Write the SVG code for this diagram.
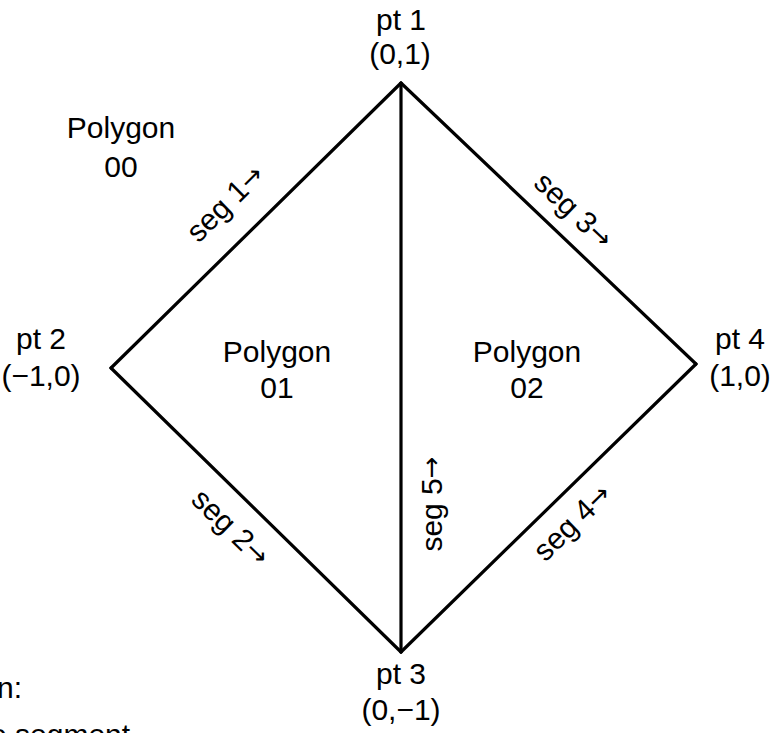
<svg xmlns="http://www.w3.org/2000/svg" width="779" height="733" viewBox="0 0 779 733">
<style>
text{font-family:"Liberation Sans",Arial,Helvetica,sans-serif;font-size:30px;fill:#000;text-anchor:middle}
.ar{font-family:"DejaVu Sans",sans-serif;font-size:26px}
.edge{stroke:#000;stroke-width:3.2;fill:none;stroke-linecap:round}
.l{text-anchor:start}
</style>
<rect width="779" height="733" fill="#fff"/>
<g id="connectors">
<line class="edge" x1="111" y1="368" x2="401" y2="83"/>
<line class="edge" x1="401" y1="83" x2="696" y2="364"/>
<line class="edge" x1="111" y1="368" x2="401" y2="652"/>
<line class="edge" x1="696" y1="364" x2="401" y2="652"/>
<line class="edge" x1="401" y1="83" x2="401" y2="652"/>
<text transform="translate(225,203) rotate(-44.5)" dominant-baseline="central">seg 1<tspan class="ar">→</tspan></text>
<text transform="translate(574,210) rotate(43.6)" dominant-baseline="central">seg 3<tspan class="ar">→</tspan></text>
<text transform="translate(231,527) rotate(44.4)" dominant-baseline="central">seg 2<tspan class="ar">→</tspan></text>
<text transform="translate(572,522) rotate(-44.3)" dominant-baseline="central">seg 4<tspan class="ar">→</tspan></text>
<text transform="translate(431,504) rotate(-90)" dominant-baseline="central">seg 5<tspan class="ar">→</tspan></text>
</g>
<g id="pt1"><text x="401" y="30">pt 1</text><text x="400" y="64">(0,1)</text></g>
<g id="pt2"><text x="41" y="349">pt 2</text><text x="41" y="386">(−1,0)</text></g>
<g id="pt3"><text x="401" y="684">pt 3</text><text x="401" y="720">(0,−1)</text></g>
<g id="pt4"><text x="740" y="349">pt 4</text><text x="740" y="386">(1,0)</text></g>
<g id="poly00"><text x="121" y="138">Polygon</text><text x="121" y="177">00</text></g>
<g id="poly01"><text x="277" y="362">Polygon</text><text x="277" y="398">01</text></g>
<g id="poly02"><text x="527" y="362">Polygon</text><text x="527" y="398">02</text></g>
<g id="legend"><text class="l" x="-3" y="698">n:</text><text class="l" x="-10" y="745">e segment</text></g>
</svg>
